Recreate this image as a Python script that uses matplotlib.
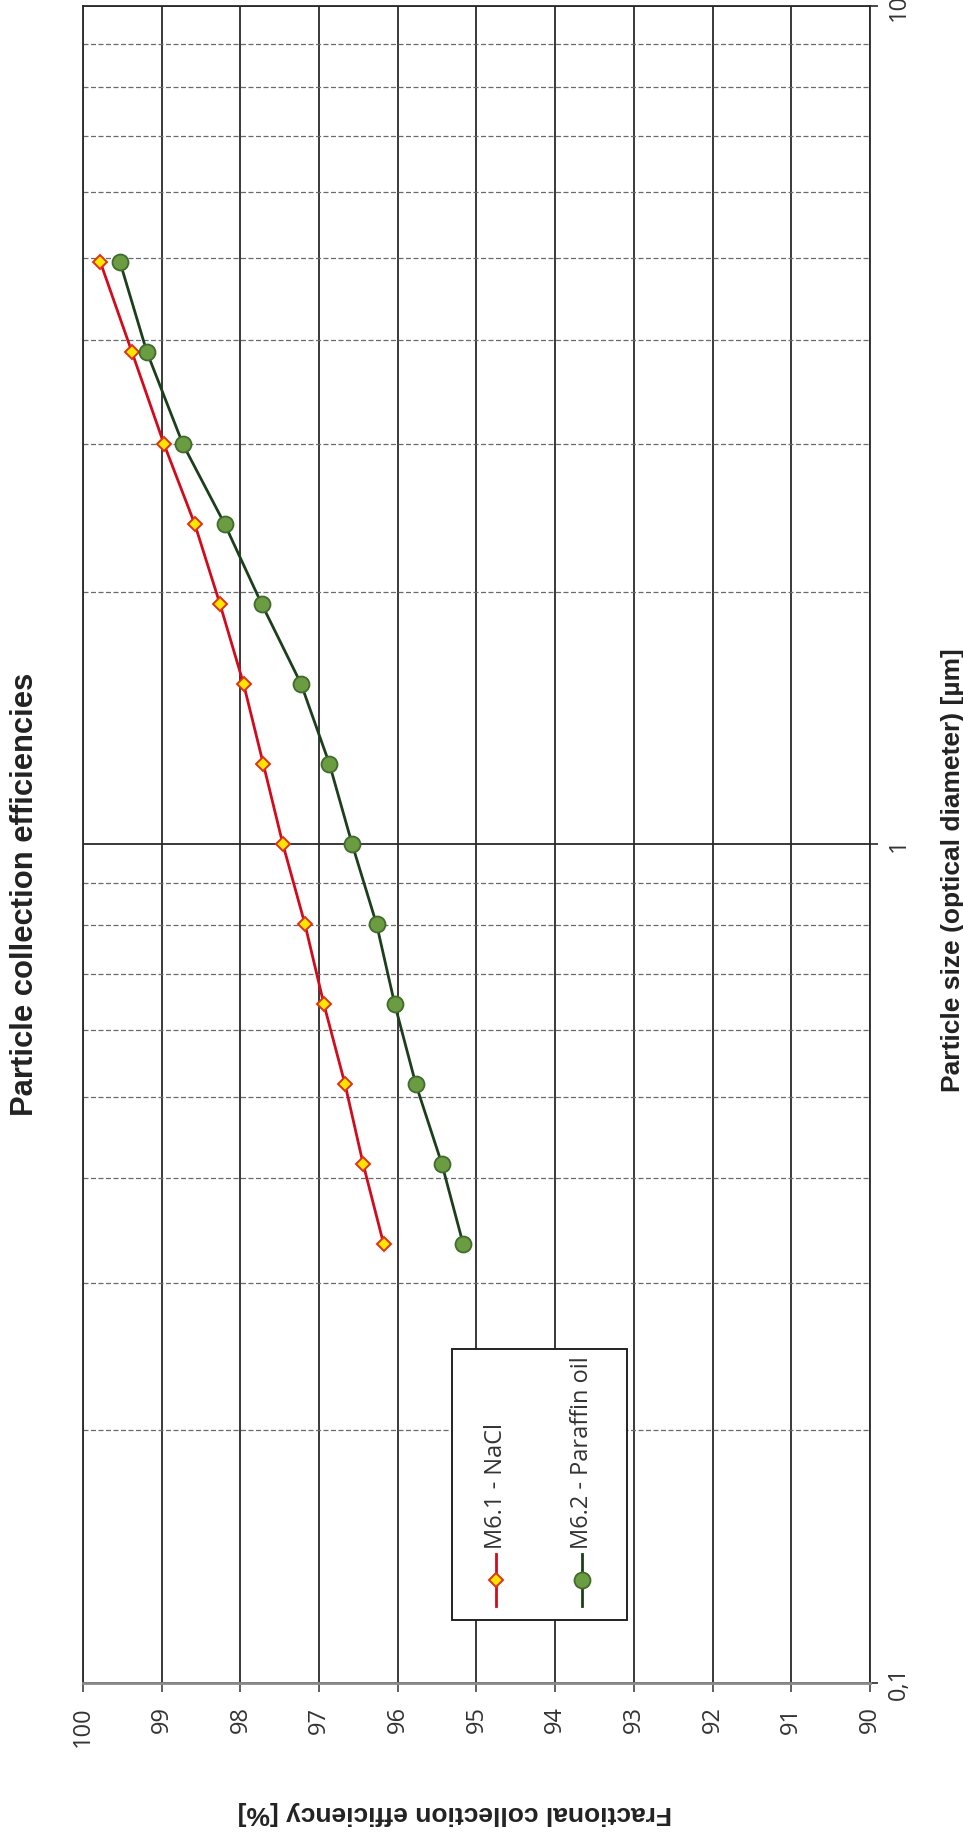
import matplotlib
matplotlib.use("Agg")
import matplotlib.pyplot as plt
from matplotlib import font_manager as fm
from matplotlib.lines import Line2D
from matplotlib.patches import Rectangle
from matplotlib.ticker import FixedLocator, NullFormatter

# ---------------- data ----------------
particle_size = [4.95, 3.87, 3.0, 2.41, 1.935, 1.554, 1.248, 1.0, 0.803, 0.645, 0.517, 0.4155, 0.3336]
nacl_eff = [99.78, 99.38, 98.97, 98.58, 98.26, 97.96, 97.71, 97.46, 97.18, 96.94, 96.67, 96.44, 96.18]
paraffin_eff = [99.53, 99.19, 98.73, 98.20, 97.73, 97.23, 96.87, 96.58, 96.27, 96.04, 95.77, 95.44, 95.17]
series_names = ["M6.1 - NaCl", "M6.2 - Paraffin oil"]
eff_ticks = [100, 99, 98, 97, 96, 95, 94, 93, 92, 91, 90]
eff_labels = [str(v) for v in eff_ticks]
size_ticks = [0.1, 1, 10]
size_labels = ["0,1", "1", "10"]
title = "Particle collection efficiencies"
size_label = "Particle size (optical diameter) [µm]"
eff_label = "Fractional collection efficiency [%]"

# ---------------- fonts ----------------
names = {f.name for f in fm.fontManager.ttflist}
if "Liberation Sans Narrow" in names:
    bold_family, bscale = "Liberation Sans Narrow", 1.2
elif "Liberation Sans" in names:
    bold_family, bscale = "Liberation Sans", 1.0
else:
    bold_family, bscale = "DejaVu Sans", 0.85
light_family = "Open Sans" if "Open Sans" in names else "DejaVu Sans"

W, H = 963, 1833
fig = plt.figure(figsize=(W / 100, H / 100), dpi=100)
fig.patch.set_facecolor("white")

x0, x1 = 83, 870          # pixel columns of 100 % and 90 %
y_top, y_bot = 7, 1683.5  # pixel rows of 10 µm and 0.1 µm
ax = fig.add_axes([x0 / W, 1 - y_bot / H, (x1 - x0) / W, (y_bot - y_top) / H])

ax.set_yscale("log")
ax.set_xlim(100, 90)
ax.set_ylim(0.1, 10)

ax.set_xticks(eff_ticks)
ax.set_xticklabels(eff_labels, rotation=90, fontsize=17, family=light_family,
                   color="#333333")
ax.yaxis.set_major_locator(FixedLocator(size_ticks))
minor = [m * 10 ** e for e in (-1, 0) for m in range(2, 10)]
ax.yaxis.set_minor_locator(FixedLocator(minor))
ax.yaxis.set_minor_formatter(NullFormatter())
ax.yaxis.tick_right()
ax.set_yticklabels(size_labels, rotation=90, va="center", fontsize=17,
                   family=light_family, color="#333333")

ax.grid(True, axis="x", which="major", color="#2a2a2a", lw=1.3)
ax.grid(True, axis="y", which="major", color="#2a2a2a", lw=1.3)
ax.grid(True, axis="y", which="minor", color="#6a6a6a", lw=0.9, ls=(0, (4, 2)))
ax.set_axisbelow(True)

ax.tick_params(axis="x", which="major", direction="out", length=6.5, width=1.2,
               color="#444444", pad=10)
ax.tick_params(axis="y", which="major", direction="out", length=6, width=1.2,
               color="#2a2a2a", pad=6)
ax.tick_params(axis="y", which="minor", length=0)

for side in ("left", "right", "top"):
    ax.spines[side].set_color("#2a2a2a")
    ax.spines[side].set_linewidth(1.3)
ax.spines["bottom"].set_color("#8a8a8a")
ax.spines["bottom"].set_linewidth(2.0)

# series
red, yellow, red_edge = "#d20a1c", "#ffe600", "#e0301a"
dgreen, gface, gedge = "#1b3f1b", "#6b9c42", "#3f6b2c"
nacl_style = dict(color=red, marker="D", ms=7.2, mfc=yellow, mec=red_edge, mew=1.4)
par_style = dict(color=dgreen, marker="o", ms=11.5, mfc=gface, mec=gedge, mew=1.3)
ax.plot(nacl_eff, particle_size, lw=2.0, zorder=4, **nacl_style)
ax.plot(paraffin_eff, particle_size, lw=2.0, zorder=4, **par_style)

# legend (drawn rotated, like the reference)
def fx(px):
    return px / W

def fy(py):
    return 1 - py / H

box = Rectangle((fx(452), fy(1621)), (627 - 452) / W, (1621 - 1350) / H,
                transform=fig.transFigure, facecolor="white", edgecolor="#222222",
                lw=1.4, zorder=6, clip_on=False)
fig.add_artist(box)
leg_x = [495.7, 581.7]
for lx, name, st in zip(leg_x, series_names, [nacl_style, par_style]):
    fig.add_artist(Line2D([fx(lx), fx(lx)], [fy(1607), fy(1555)], transform=fig.transFigure,
                          color=st["color"], lw=2.0, zorder=7))
    fig.add_artist(Line2D([fx(lx)], [fy(1581)], transform=fig.transFigure, ls="none",
                          marker=st["marker"], ms=st["ms"], mfc=st["mfc"], mec=st["mec"],
                          mew=st["mew"], zorder=8))
    fig.text(fx(lx), fy(1549), name, rotation=90, ha="center", va="bottom",
             fontsize=17, family=light_family, color="#333333", zorder=8)

# titles / axis labels
fig.text(fx(25), fy(894), title, rotation=90, ha="center", va="center",
         fontsize=22.3 * bscale, family=bold_family, fontweight="bold", color="#222222")
fig.text(fx(953), fy(870), size_label, rotation=90, ha="center", va="center",
         fontsize=19 * bscale, family=bold_family, fontweight="bold", color="#222222")
fig.text(fx(455), fy(1813), eff_label, rotation=180, ha="center", va="center",
         fontsize=19 * bscale, family=bold_family, fontweight="bold", color="#222222")

fig.savefig("out.png", dpi=100, facecolor="white")
